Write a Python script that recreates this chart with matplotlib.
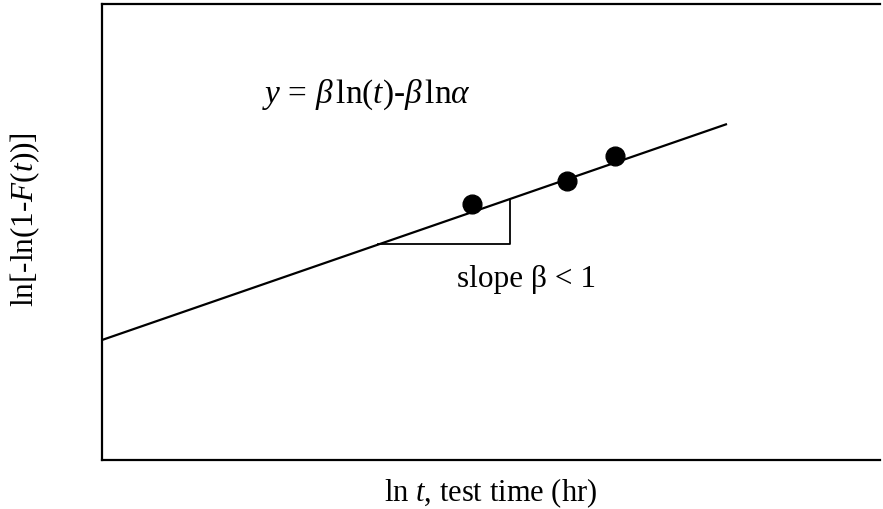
import matplotlib
matplotlib.use("Agg")
import matplotlib.pyplot as plt

plt.rcParams['font.family'] = ['Liberation Serif', 'DejaVu Serif']
plt.rcParams['mathtext.fontset'] = 'custom'
plt.rcParams['mathtext.rm'] = 'Liberation Serif'
plt.rcParams['mathtext.it'] = 'Liberation Serif:italic'

# Weibull plot sketch: fitted line, three failure points, slope triangle
line_x = [0, 625]
line_y = [120, 336]
point_x = [370, 465, 513]
point_y = [256, 279, 304]
tri_x = [276, 408, 408]
tri_y = [216, 216, 260]

fig = plt.figure(figsize=(8.83, 5.10), dpi=100)
ax = fig.add_axes([102 / 883, 49 / 510, 778 / 883, 456 / 510])

ax.plot(line_x, line_y, color='black', lw=1.6, solid_capstyle='butt')
ax.plot(tri_x, tri_y, color='black', lw=1.3)
ax.plot(point_x, point_y, 'o', color='black', markersize=13.5)

ax.text(160, 358, r'$y$ = $\beta\,$ln($t$)-$\beta\,$ln$\alpha$', fontsize=24,
        ha='left', va='baseline')
ax.text(355, 174, 'slope β < 1', fontsize=22.5, ha='left', va='baseline')

ax.set_xlim(0, 778)
ax.set_ylim(0, 456)
ax.set_xticks([])
ax.set_yticks([])
for side in ['left', 'bottom', 'top']:
    ax.spines[side].set_linewidth(1.6)
ax.spines['right'].set_visible(False)

ax.set_xlabel(r'ln $t$, test time (hr)', fontsize=22, labelpad=11)
ax.set_ylabel(r'ln[-ln(1-$F$($t$))]', fontsize=22.5, va='center')
ax.yaxis.set_label_coords(-0.099, 0.53)

fig.savefig('out.png', dpi=100)
